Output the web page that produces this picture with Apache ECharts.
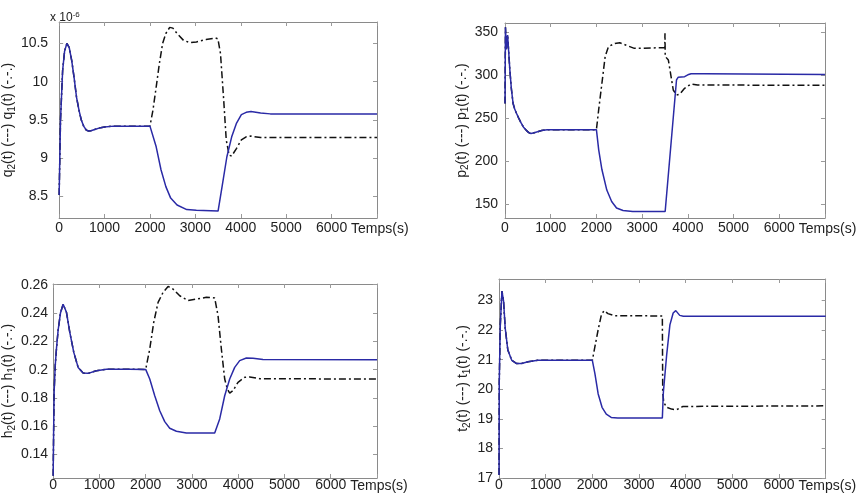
<!DOCTYPE html>
<html>
<head>
<meta charset="utf-8">
<script src="https://cdn.jsdelivr.net/npm/echarts@6/dist/echarts.min.js"></script>
<style>
html,body{margin:0;padding:0;background:#fff;}
#chart{width:856px;height:493px;}
</style>
</head>
<body>
<div id="chart"></div>
<script>
// ---------- DATA ----------
const xTicks = [0, 1000, 2000, 3000, 4000, 5000, 6000];
const xTickMarks = [0, 1000, 2000, 3000, 4000, 5000, 6000, 7000];
const xName = 'Temps(s)';

// Panel q (x 10^-6)
const qTicks = [8.5, 9, 9.5, 10, 10.5];
const qEarlyT = [0, 30, 77, 120, 170, 220, 276, 330, 382, 440, 488, 540, 594, 650, 700, 800, 913, 1000, 1200, 1500, 2000];
const qEarlyV = [8.52, 9.5, 10.15, 10.4, 10.5, 10.45, 10.28, 10.05, 9.80, 9.62, 9.5, 9.42, 9.37, 9.355, 9.36, 9.38, 9.40, 9.41, 9.42, 9.42, 9.42];
const q2LateT = [2030, 2137, 2243, 2350, 2456, 2597, 2810, 3022, 3500, 3588, 3694, 3800, 3907, 4013, 4119, 4225, 4437, 4650, 7000];
const q2LateV = [9.41, 9.15, 8.85, 8.63, 8.48, 8.39, 8.33, 8.32, 8.31, 8.63, 9.02, 9.28, 9.46, 9.57, 9.60, 9.61, 9.59, 9.58, 9.58];
const q1LateT = [2066, 2137, 2208, 2279, 2350, 2435, 2505, 2597, 2739, 2880, 3022, 3234, 3447, 3496, 3553, 3624, 3680, 3744, 3800, 3907, 4013, 4119, 4225, 4437, 7000];
const q1LateV = [9.63, 9.93, 10.24, 10.5, 10.63, 10.71, 10.70, 10.63, 10.54, 10.51, 10.52, 10.55, 10.57, 10.56, 10.37, 9.76, 9.24, 9.04, 9.03, 9.13, 9.24, 9.28, 9.29, 9.27, 9.27];

// Panel p
const pTicks = [150, 200, 250, 300, 350];
const pEarlyT = [0, 10, 30, 57, 80, 106, 140, 177, 210, 248, 300, 355, 410, 461, 520, 567, 640, 709, 800, 922, 1200, 2000];
const pEarlyV = [267, 356, 330, 347, 328, 306, 284, 267, 261, 256, 250, 244, 239, 236, 233, 232, 233, 234, 235.5, 236.5, 236.5, 236.5];
const p2LateT = [2050, 2120, 2227, 2333, 2440, 2582, 2794, 3504, 3752, 3787, 3929, 4000, 4071, 4355, 4380, 7000];
const p2LateV = [213, 190, 166, 152.7, 145, 142.2, 141, 141, 294.5, 297.6, 298.4, 300.5, 301.8, 301.8, 300.8, 300.8];
const p1LateT = [2050, 2120, 2191, 2262, 2404, 2511, 2652, 2830, 3007, 3362, 3495, 3500, 3505, 3574, 3610, 3681, 3752, 3823, 3929, 4071, 4213, 7000];
const p1LateV = [260, 290.6, 321.7, 333.3, 337.2, 338, 335, 331.4, 331.4, 332.1, 332, 349, 322, 317.8, 306, 282.8, 277, 278, 284.8, 289.8, 288.6, 288.3];

// Panel h
const hTicks = [0.14, 0.16, 0.18, 0.2, 0.22, 0.24, 0.26];
const hEarlyT = [0, 10, 22, 45, 72, 108, 158, 216, 250, 288, 360, 446, 540, 648, 756, 936, 1152, 1656, 2000];
const hEarlyV = [0.125, 0.155, 0.185, 0.203, 0.215, 0.228, 0.240, 0.2462, 0.2455, 0.2405, 0.2264, 0.2122, 0.2016, 0.1976, 0.1974, 0.1993, 0.2003, 0.2003, 0.2002];
const h2LateT = [2088, 2196, 2304, 2412, 2520, 2664, 2880, 3492, 3600, 3708, 3816, 3924, 4032, 4176, 4320, 4536, 7000];
const h2LateV = [0.1934, 0.1816, 0.171, 0.1633, 0.1586, 0.1565, 0.1553, 0.1553, 0.1652, 0.1816, 0.1934, 0.2016, 0.2064, 0.2082, 0.208, 0.2071, 0.207];
const h1LateT = [2088, 2174, 2268, 2376, 2484, 2592, 2736, 2916, 3096, 3312, 3492, 3564, 3636, 3708, 3765, 3816, 3888, 3996, 4140, 4248, 4464, 7000];
const h1LateV = [0.2146, 0.2334, 0.2475, 0.2546, 0.2588, 0.2569, 0.2522, 0.2489, 0.2499, 0.2511, 0.2506, 0.2381, 0.2146, 0.1934, 0.1864, 0.1835, 0.1852, 0.1911, 0.1946, 0.1948, 0.1936, 0.1934];

// Panel t
const tTicks = [17, 18, 19, 20, 21, 22, 23];
const tEarlyT = [0, 5, 28, 63, 98, 133, 189, 273, 378, 482, 622, 832, 2000];
const tEarlyV = [17.1, 20.2, 22.18, 23.32, 22.98, 22.07, 21.33, 20.98, 20.87, 20.87, 20.93, 20.98, 20.98];
const t2LateT = [2055, 2124, 2208, 2299, 2404, 2544, 3500, 3522, 3592, 3662, 3732, 3788, 3872, 3950, 7000];
const t2LateV = [20.53, 19.85, 19.39, 19.16, 19.05, 19.03, 19.03, 19.9, 21.15, 22.18, 22.58, 22.66, 22.5, 22.47, 22.47];
const t1LateT = [2055, 2124, 2194, 2250, 2334, 2474, 3500, 3508, 3530, 3592, 3697, 3802, 3942, 7000];
const t1LateV = [21.44, 22.01, 22.52, 22.66, 22.56, 22.49, 22.48, 19.9, 19.56, 19.39, 19.33, 19.31, 19.42, 19.44];

// ---------- BUILD ----------
function pairs(t, v) { return t.map((x, i) => [x, v[i]]); }
const BLUE = '#2a2aa6';
const BLACK = '#111111';
const BOX = '#8a8a8a';
const TXT = '#222222';
const FONT = 'Liberation Sans, Arial, sans-serif';
const LBL = 14;

const panels = [
  { grid: {left: 48, top: 22, width: 329, height: 196}, yMin: 8.22, yMax: 10.78, ticks: qTicks,
    name: '{n|q}{s|2}{n|(t) (---) q}{s|1}{n|(t) (-.-.)}', nameGap: 35, labelMargin: 11, xMargin: 3,
    blue: pairs(qEarlyT.concat(q2LateT), qEarlyV.concat(q2LateV)),
    black: pairs(qEarlyT.concat(q1LateT), qEarlyV.concat(q1LateV)) },
  { grid: {left: 505, top: 23, width: 329, height: 195}, yMin: 133.4, yMax: 361, ticks: pTicks,
    name: '{n|p}{s|2}{n|(t) (---) p}{s|1}{n|(t) (-.-.)}', nameGap: 32, labelMargin: 7, xMargin: 3,
    blue: pairs(pEarlyT.concat(p2LateT), pEarlyV.concat(p2LateV)),
    black: pairs(pEarlyT.concat(p1LateT), pEarlyV.concat(p1LateV)) },
  { grid: {left: 53, top: 284, width: 324, height: 194}, yMin: 0.1235, yMax: 0.2605, ticks: hTicks,
    name: '{n|h}{s|2}{n|(t) (---) h}{s|1}{n|(t) (-.-.)}', nameGap: 36, labelMargin: 5, xMargin: 0,
    blue: pairs(hEarlyT.concat(h2LateT), hEarlyV.concat(h2LateV)),
    black: pairs(hEarlyT.concat(h1LateT), hEarlyV.concat(h1LateV)) },
  { grid: {left: 499, top: 279, width: 334, height: 199}, yMin: 17, yMax: 23.73, ticks: tTicks,
    name: '{n|t}{s|2}{n|(t) (---) t}{s|1}{n|(t) (-.-.)}', nameGap: 27, labelMargin: 6, xMargin: 0,
    blue: pairs(tEarlyT.concat(t2LateT), tEarlyV.concat(t2LateV)),
    black: pairs(tEarlyT.concat(t1LateT), tEarlyV.concat(t1LateV)) }
];

const grids = [], xAxes = [], yAxes = [], series = [];
panels.forEach((p, i) => {
  grids.push(Object.assign({containLabel: false}, p.grid));
  const tick = {show: true, inside: true, length: 4, lineStyle: {color: '#9a9a9a', width: 1}};
  xAxes.push({
    type: 'value', gridIndex: i, min: 0, max: 7000, position: 'bottom',
    axisLine: {show: true, onZero: false, lineStyle: {color: BOX, width: 1}},
    axisTick: Object.assign({customValues: xTickMarks}, tick),
    axisLabel: {customValues: xTicks, color: TXT, fontSize: LBL, fontFamily: FONT, margin: p.xMargin,
      formatter: v => String(v)},
    splitLine: {show: false},
    name: xName, nameLocation: 'end', nameGap: -30,
    nameTextStyle: {color: TXT, fontSize: LBL, fontFamily: FONT, align: 'left', verticalAlign: 'top', padding: [p.xMargin + 1, 0, 0, 0]}
  });
  xAxes.push({
    type: 'value', gridIndex: i, min: 0, max: 7000, position: 'top',
    axisLine: {show: true, onZero: false, lineStyle: {color: BOX, width: 1}},
    axisTick: Object.assign({customValues: xTickMarks}, tick),
    axisLabel: {show: false}, splitLine: {show: false}
  });
  yAxes.push({
    type: 'value', gridIndex: i, min: p.yMin, max: p.yMax, position: 'left',
    axisLine: {show: true, onZero: false, lineStyle: {color: BOX, width: 1}},
    axisTick: Object.assign({customValues: p.ticks}, tick),
    axisLabel: {customValues: p.ticks, color: TXT, fontSize: LBL, fontFamily: FONT, margin: p.labelMargin,
      formatter: v => String(v)},
    splitLine: {show: false},
    name: p.name, nameLocation: 'middle', nameGap: p.nameGap,
    nameTextStyle: {
      color: TXT, fontFamily: FONT,
      rich: {
        n: {fontSize: 14, lineHeight: 18, color: TXT, fontFamily: FONT},
        s: {fontSize: 10, lineHeight: 18, verticalAlign: 'bottom', color: TXT, fontFamily: FONT}
      }
    }
  });
  yAxes.push({
    type: 'value', gridIndex: i, min: p.yMin, max: p.yMax, position: 'right',
    axisLine: {show: true, onZero: false, lineStyle: {color: BOX, width: 1}},
    axisTick: Object.assign({customValues: p.ticks}, tick),
    axisLabel: {show: false}, splitLine: {show: false}
  });
  series.push({
    type: 'line', xAxisIndex: 2 * i, yAxisIndex: 2 * i, data: p.black,
    showSymbol: false, symbol: 'none', smooth: false, z: 2,
    lineStyle: {color: BLACK, width: 1.5, type: [7, 3, 2, 3]}
  });
  series.push({
    type: 'line', xAxisIndex: 2 * i, yAxisIndex: 2 * i, data: p.blue,
    showSymbol: false, symbol: 'none', smooth: false, z: 3,
    lineStyle: {color: BLUE, width: 1.5}
  });
});

const chart = echarts.init(document.getElementById('chart'), null, {renderer: 'canvas'});
chart.setOption({
  backgroundColor: '#ffffff',
  animation: false,
  title: {
    text: 'x 10{sup|-6}', left: 45, top: 6,
    textStyle: {
      color: TXT, fontSize: 12, fontWeight: 'normal', fontFamily: FONT,
      rich: {sup: {fontSize: 8, verticalAlign: 'top', lineHeight: 14, color: TXT, fontFamily: FONT}}
    }
  },
  grid: grids, xAxis: xAxes, yAxis: yAxes, series: series
});
</script>
</body>
</html>
